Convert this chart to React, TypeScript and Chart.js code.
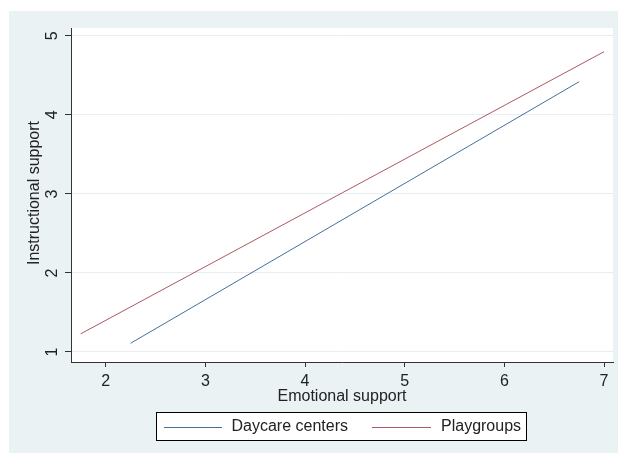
import React, { useEffect, useRef } from 'react';
import { Chart, registerables } from 'chart.js';
Chart.register(...registerables);

const seriesNames = ['Daycare centers', 'Playgroups'];
const seriesColors = ['#46709C', '#AE5862'];
const daycareX = [2.25, 6.75];
const daycareY = [1.11, 4.42];
const playgroupsX = [1.75, 7.0];
const playgroupsY = [1.23, 4.8];
const xTicks = [2, 3, 4, 5, 6, 7];
const yTicks = [1, 2, 3, 4, 5];
const xTitle = 'Emotional support';
const yTitle = 'Instructional support';

const FONT = '"Liberation Sans", Arial, sans-serif';
const OUTER_BG = '#EAF2F3';
const TEXT = '#222';

const stataPlugin = {
  id: 'stataLook',
  beforeDraw(chart: any) {
    const ctx = chart.ctx;
    const a = chart.chartArea;
    ctx.save();
    ctx.fillStyle = '#ffffff';
    ctx.fillRect(0, 0, chart.width, chart.height);
    ctx.fillStyle = OUTER_BG;
    ctx.fillRect(9, 11, 609, 442);
    ctx.fillStyle = '#ffffff';
    ctx.fillRect(a.left, a.top, a.right - a.left, a.bottom - a.top);
    ctx.restore();
  },
  afterDraw(chart: any) {
    const ctx = chart.ctx;
    const xs = chart.scales.x;
    const ys = chart.scales.y;
    const a = chart.chartArea;
    ctx.save();
    ctx.fillStyle = TEXT;
    // y tick labels (rotated)
    ctx.font = `16px ${FONT}`;
    ctx.textAlign = 'center';
    ctx.textBaseline = 'alphabetic';
    yTicks.forEach((v) => {
      const py = ys.getPixelForValue(v);
      ctx.save();
      ctx.translate(57, py);
      ctx.rotate(-Math.PI / 2);
      ctx.fillText(String(v), 0, 0);
      ctx.restore();
    });
    // y title
    ctx.font = `16px ${FONT}`;
    ctx.save();
    ctx.translate(38.5, 193);
    ctx.rotate(-Math.PI / 2);
    ctx.fillText(yTitle, 0, 0);
    ctx.restore();
    // x tick labels
    ctx.font = `16px ${FONT}`;
    xTicks.forEach((v) => {
      ctx.fillText(String(v), xs.getPixelForValue(v), 386);
    });
    // x title
    ctx.fillText(xTitle, (a.left + a.right) / 2, 401);
    // legend
    ctx.fillStyle = '#ffffff';
    ctx.fillRect(157, 413, 370, 28);
    ctx.strokeStyle = '#000';
    ctx.lineWidth = 1;
    ctx.strokeRect(156.5, 412.5, 370, 28);
    const items = [
      { x0: 164, x1: 222, tx: 231.5 },
      { x0: 372, x1: 431, tx: 441 },
    ];
    seriesNames.forEach((name, i) => {
      const it = items[i];
      ctx.strokeStyle = seriesColors[i];
      ctx.lineWidth = 1;
      ctx.beginPath();
      ctx.moveTo(it.x0, 427.5);
      ctx.lineTo(it.x1, 427.5);
      ctx.stroke();
      ctx.fillStyle = TEXT;
      ctx.font = `16px ${FONT}`;
      ctx.textAlign = 'left';
      ctx.textBaseline = 'middle';
      ctx.fillText(name, it.tx, 427);
    });
    ctx.restore();
  },
};

export default function App() {
  const ref = useRef<HTMLCanvasElement | null>(null);
  useEffect(() => {
    if (!ref.current) return;
    const chart = new Chart(ref.current, {
      type: 'scatter',
      data: {
        datasets: [
          {
            label: seriesNames[0],
            data: daycareX.map((x, i) => ({ x, y: daycareY[i] })),
            borderColor: seriesColors[0],
            backgroundColor: seriesColors[0],
            borderWidth: 1,
            showLine: true,
            pointRadius: 0,
          },
          {
            label: seriesNames[1],
            data: playgroupsX.map((x, i) => ({ x, y: playgroupsY[i] })),
            borderColor: seriesColors[1],
            backgroundColor: seriesColors[1],
            borderWidth: 1,
            showLine: true,
            pointRadius: 0,
          },
        ],
      },
      options: {
        animation: false,
        responsive: false,
        layout: { padding: { left: 0, top: 28, right: 7, bottom: 0 } },
        plugins: { legend: { display: false }, tooltip: { enabled: false } },
        scales: {
          x: {
            type: 'linear',
            min: 1.652,
            max: 7.09,
            afterBuildTicks: (s: any) => {
              s.ticks = xTicks.map((v) => ({ value: v }));
            },
            afterFit: (s: any) => {
              s.height = 93;
            },
            ticks: { display: false },
            grid: {
              drawOnChartArea: false,
              drawTicks: true,
              tickLength: 5,
              tickColor: '#333',
            },
            border: { display: true, color: '#333', width: 1 },
          },
          y: {
            type: 'linear',
            min: 0.873,
            max: 5.1,
            afterBuildTicks: (s: any) => {
              s.ticks = yTicks.map((v) => ({ value: v }));
            },
            afterFit: (s: any) => {
              s.width = 71;
            },
            ticks: { display: false },
            grid: {
              drawOnChartArea: true,
              color: '#E6EEF0',
              lineWidth: 1,
              drawTicks: true,
              tickLength: 6,
              tickColor: '#333',
            },
            border: { display: true, color: '#333', width: 1 },
          },
        },
      },
      plugins: [stataPlugin],
    } as any);
    return () => chart.destroy();
  }, []);
  return (
    <div style={{ position: 'fixed', left: 0, top: 0, width: 620, height: 455, background: '#fff' }}>
      <canvas ref={ref} width={620} height={455} style={{ display: 'block', width: 620, height: 455 }} />
    </div>
  );
}
